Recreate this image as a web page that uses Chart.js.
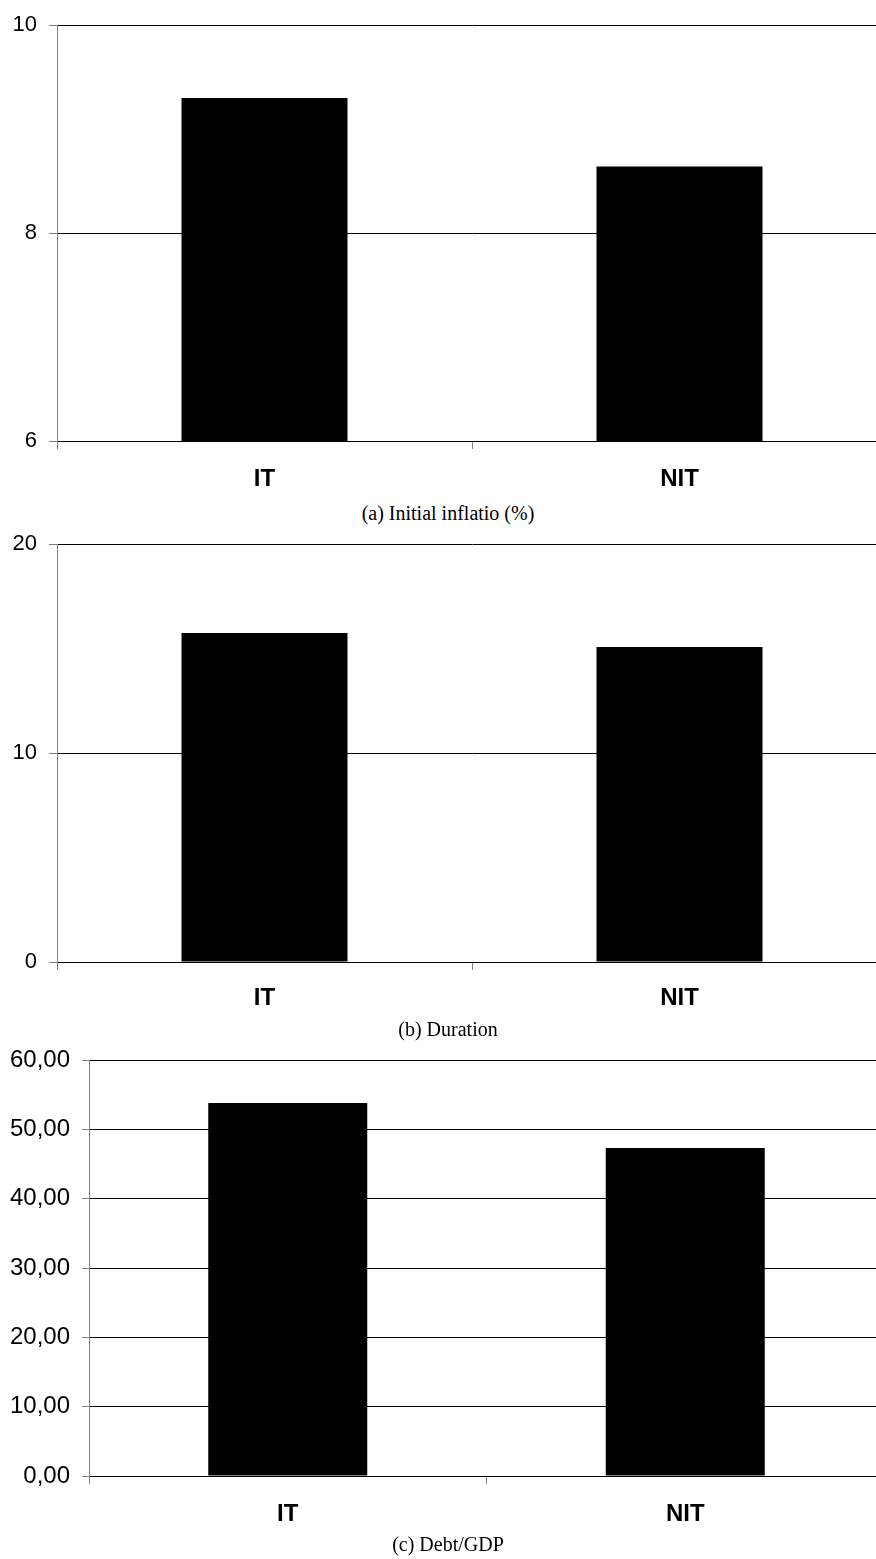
<!DOCTYPE html>
<html>
<head>
<meta charset="utf-8">
<script src="https://cdn.jsdelivr.net/npm/chart.js@4/dist/chart.umd.min.js"></script>
<style>
  html, body { margin: 0; padding: 0; background: #fff; width: 876px; height: 1559px; overflow: hidden; }
  canvas { position: absolute; left: 0; }
  .cap { position: absolute; left: 248px; width: 400px; text-align: center; font-family: "Liberation Serif", serif; font-size: 20px; line-height: 20px; color: #000; white-space: nowrap; }
</style>
</head>
<body>
<canvas id="c1" width="890" height="500" style="top:0px"></canvas>
<div class="cap" style="top:503px">(a) Initial inflatio (%)</div>
<canvas id="c2" width="890" height="520" style="top:500px"></canvas>
<div class="cap" style="top:1019px">(b) Duration</div>
<canvas id="c3" width="890" height="539" style="top:1020px"></canvas>
<div class="cap" style="top:1534px">(c) Debt/GDP</div>
<script>
const categories = ['IT', 'NIT'];
const initialInflation = [9.30, 8.64];
const duration = [15.74, 15.07];
const debtGdp = [53.8, 47.3];
const inflationTicks = { min: 6, max: 10, step: 2 };
const durationTicks = { min: 0, max: 20, step: 10 };
const debtTicks = { min: 0, max: 60, step: 10 };

function makeChart(id, values, tk, opts) {
  new Chart(document.getElementById(id), {
    type: 'bar',
    data: {
      labels: categories,
      datasets: [{
        data: values,
        backgroundColor: '#000',
        borderColor: '#000',
        borderWidth: 0,
        barPercentage: 0.4,
        categoryPercentage: 1.0
      }]
    },
    options: {
      responsive: false,
      animation: false,
      devicePixelRatio: 1,
      layout: { padding: { top: opts.padTop, right: opts.padRight, left: 0, bottom: 0 } },
      plugins: { legend: { display: false }, tooltip: { enabled: false }, title: { display: false } },
      scales: {
        x: {
          offset: true,
          grid: { display: true, drawOnChartArea: false, drawTicks: true, tickLength: 8, offset: true, color: '#808080', tickColor: '#808080' },
          border: { display: true, color: '#000', width: 1 },
          ticks: { color: '#000', padding: opts.xPad, font: { family: 'Liberation Sans, Arial, sans-serif', size: opts.xFont, weight: 'bold' } },
          afterFit: s => { s.height = opts.xHeight; }
        },
        y: {
          min: tk.min,
          max: tk.max,
          grid: { color: '#000', lineWidth: 1, drawTicks: true, tickLength: opts.yTick, tickColor: '#808080' },
          border: { display: true, color: '#808080', width: 1 },
          ticks: {
            stepSize: tk.step,
            color: '#000',
            padding: 12,
            font: { family: 'Liberation Sans, Arial, sans-serif', size: opts.yFont },
            callback: opts.fmt
          },
          afterFit: s => { s.width = opts.yWidth; }
        }
      }
    }
  });
}

makeChart('c1', initialInflation, inflationTicks, { padTop: 22, padRight: 3, xHeight: 59, yWidth: 57, yTick: 8, xPad: 16, xFont: 24, yFont: 22, fmt: v => String(v) });
makeChart('c2', duration, durationTicks, { padTop: 44, padRight: 3, xHeight: 58, yWidth: 57, yTick: 8, xPad: 14, xFont: 24, yFont: 22, fmt: v => String(v) });
makeChart('c3', debtGdp, debtTicks, { padTop: 40, padRight: 6, xHeight: 83, yWidth: 89, yTick: 7, xPad: 16, xFont: 24, yFont: 24, fmt: v => Number(v).toFixed(2).replace('.', ',') });
</script>
</body>
</html>
